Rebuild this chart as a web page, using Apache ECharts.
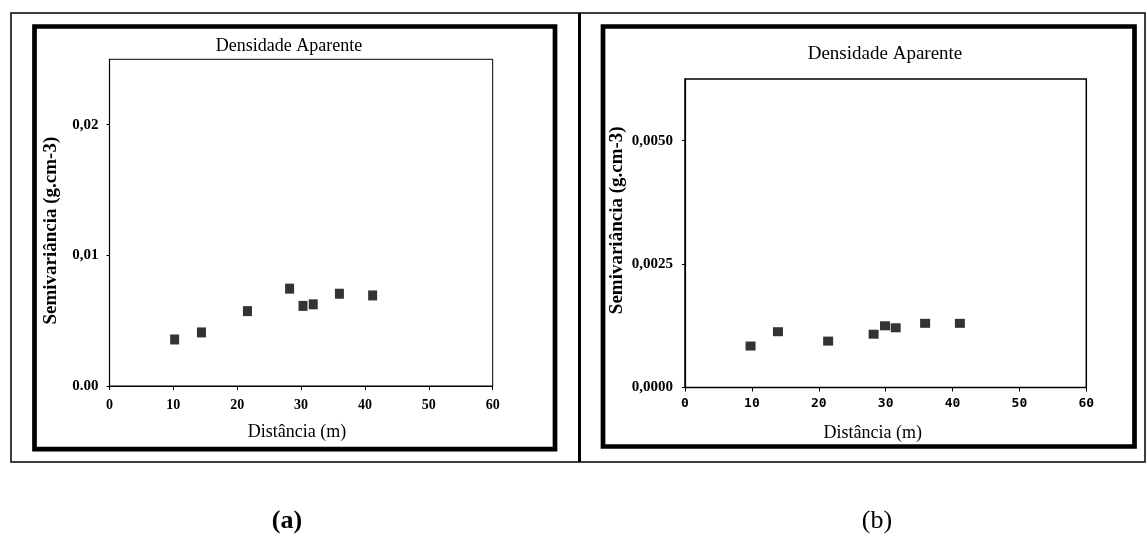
<!DOCTYPE html>
<html>
<head>
<meta charset="utf-8">
<script src="https://cdn.jsdelivr.net/npm/echarts@6/dist/echarts.min.js"></script>
<style>
  html, body { margin: 0; padding: 0; background: #fff; }
  #chart { width: 1147px; height: 537px; }
</style>
</head>
<body>
<div id="chart"></div>
<script>
// Semivariogram of bulk density: lag distance (m) vs semivariance
const distA = [10.2, 14.4, 21.6, 28.2, 30.3, 31.9, 36.0, 41.2];
const semivarA = [0.00356, 0.0041, 0.00573, 0.00745, 0.00613, 0.00625, 0.00706, 0.00693];
const distB = [9.8, 13.9, 21.4, 28.2, 29.9, 31.5, 35.9, 41.1];
const semivarB = [0.00084, 0.00113, 0.00094, 0.00108, 0.00125, 0.00121, 0.0013, 0.0013];

const xTickLabels = ['0', '10', '20', '30', '40', '50', '60'];
const yTickValsA = [0, 0.01, 0.02];
const yTickLabelsA = ['0.00', '0,01', '0,02'];
const yTickValsB = [0, 0.0025, 0.005];
const yTickLabelsB = ['0,0000', '0,0025', '0,0050'];

const panelTitle = 'Densidade Aparente';
const xName = 'Distância (m)';
const yName = 'Semivariância (g.cm-3)';
const panelTags = ['(a)', '(b)'];

const SERIF = 'Liberation Serif';

function nearestLabel(vals, labels, v) {
  let best = 0;
  for (let i = 1; i < vals.length; i++) {
    if (Math.abs(vals[i] - v) < Math.abs(vals[best] - v)) best = i;
  }
  return labels[best];
}
const pairs = (xs, ys) => xs.map((x, i) => [x, ys[i]]);

const chart = echarts.init(document.getElementById('chart'), null, { renderer: 'canvas' });

function xAxisFor(idx, labelFont, margin, padding) {
  return {
    gridIndex: idx, type: 'value', min: 0, max: 60, interval: 10,
    splitLine: { show: false },
    axisLine: { show: true, lineStyle: { color: '#000', width: 1.2 } },
    axisTick: { show: true, length: 4, lineStyle: { color: '#000' } },
    axisLabel: Object.assign({
      color: '#000', margin: margin,
      formatter: v => xTickLabels[Math.round(v / 10)]
    }, labelFont),
    name: xName, nameLocation: 'middle', nameGap: 37,
    nameTextStyle: { fontFamily: SERIF, fontSize: 18, color: '#000', padding: padding }
  };
}

function yAxisFor(idx, max, vals, labels, labelFont, margin, nameGap, padding) {
  return {
    gridIndex: idx, type: 'value', min: 0, max: max, interval: vals[1],
    splitLine: { show: false },
    axisLine: { show: true, lineStyle: { color: '#000', width: 1.2 } },
    axisTick: { show: true, length: 3, customValues: vals, lineStyle: { color: '#000' } },
    axisLabel: Object.assign({
      color: '#000', margin: margin, customValues: vals,
      formatter: v => nearestLabel(vals, labels, v)
    }, labelFont),
    name: yName, nameLocation: 'middle', nameGap: nameGap,
    nameTextStyle: { fontFamily: SERIF, fontWeight: 'bold', fontSize: 19, color: '#000', padding: padding }
  };
}

const option = {
  backgroundColor: '#fff',
  animation: false,
  grid: [
    { left: 109.5, top: 59.3, width: 383.2, height: 326.7, show: true, borderColor: '#000', borderWidth: 1, outerBoundsMode: 'none' },
    { left: 685, top: 79, width: 401.3, height: 308.5, show: true, borderColor: '#000', borderWidth: 1.5, outerBoundsMode: 'none' }
  ],
  xAxis: [
    xAxisFor(0, { fontFamily: SERIF, fontWeight: 'bold', fontSize: 14 }, 12, [0, 8, 0, 0]),
    xAxisFor(1, { fontFamily: 'DejaVu Sans Mono', fontWeight: 'bold', fontSize: 13 }, 10, [0, 26, 0, 0])
  ],
  yAxis: [
    yAxisFor(0, 0.025, yTickValsA, yTickLabelsA, { fontFamily: SERIF, fontWeight: 'bold', fontSize: 15 }, 11, 49, [0, 16, 0, 0]),
    yAxisFor(1, 0.00625, yTickValsB, yTickLabelsB, { fontFamily: SERIF, fontWeight: 'bold', fontSize: 15 }, 12, 58, [0, 0, 0, 26])
  ],
  series: [
    {
      type: 'scatter', xAxisIndex: 0, yAxisIndex: 0,
      symbol: 'rect', symbolSize: [9, 10],
      itemStyle: { color: '#000' },
      data: pairs(distA, semivarA)
    },
    {
      type: 'scatter', xAxisIndex: 1, yAxisIndex: 1,
      symbol: 'rect', symbolSize: [10, 9],
      itemStyle: { color: '#000' },
      data: pairs(distB, semivarB)
    }
  ],
  graphic: [
    // outer thin border and panel separator
    { type: 'rect', shape: { x: 11, y: 13, width: 1134, height: 449 }, style: { fill: 'none', stroke: '#000', lineWidth: 1.5 } },
    { type: 'line', shape: { x1: 579.5, y1: 13, x2: 579.5, y2: 462 }, style: { stroke: '#000', lineWidth: 3 } },
    // heavy frames around each chart
    { type: 'rect', shape: { x: 34.5, y: 26.5, width: 520.5, height: 422.7 }, style: { fill: 'none', stroke: '#000', lineWidth: 4.7 } },
    { type: 'rect', shape: { x: 603, y: 26.5, width: 531.5, height: 420 }, style: { fill: 'none', stroke: '#000', lineWidth: 4.7 } },
    // panel titles
    { type: 'text', x: 289, y: 46, style: { text: panelTitle, fontFamily: SERIF, fontSize: 18, fill: '#000', align: 'center', verticalAlign: 'middle' } },
    { type: 'text', x: 885, y: 54, style: { text: panelTitle, fontFamily: SERIF, fontSize: 19, fill: '#000', align: 'center', verticalAlign: 'middle' } },
    // panel tags
    { type: 'text', x: 287, y: 521, style: { text: panelTags[0], fontFamily: SERIF, fontWeight: 'bold', fontSize: 26, fill: '#000', align: 'center', verticalAlign: 'middle' } },
    { type: 'text', x: 877, y: 521, style: { text: panelTags[1], fontFamily: SERIF, fontSize: 26, fill: '#000', align: 'center', verticalAlign: 'middle' } }
  ]
};

chart.setOption(option);
</script>
</body>
</html>
